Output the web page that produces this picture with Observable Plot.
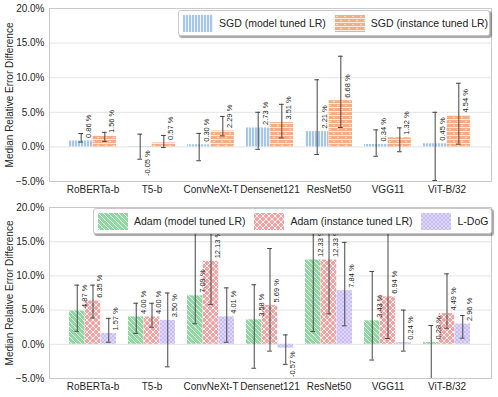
<!DOCTYPE html>
<html><head><meta charset="utf-8">
<script src="https://cdn.jsdelivr.net/npm/d3@7"></script>
<script src="https://cdn.jsdelivr.net/npm/@observablehq/plot@0.6"></script>
<style>
body{margin:0;background:#fff;font-family:"Liberation Sans",Arial,sans-serif}
#root{position:relative;width:498px;height:397px;overflow:hidden}
#root svg{display:block}
.legend{position:absolute;box-sizing:border-box;background:#fff;border:1px solid #c8c8c8;border-radius:3px;box-shadow:1.5px 1.5px 1px rgba(0,0,0,0.35);display:flex;align-items:center;font-size:10.5px;color:#222;padding:0 4px;white-space:nowrap}
.item{display:flex;align-items:center;margin-right:9px}
.item:last-child{margin-right:0}
.sw{width:30px;height:17px;margin-right:6px}
</style></head><body>
<svg width="0" height="0" style="position:absolute"><defs>
<pattern id="pBlue" width="3" height="3" patternUnits="userSpaceOnUse"><rect width="3" height="3" fill="#a6c6ed"/><rect x="2" width="1" height="3" fill="#fff" fill-opacity="0.8"/></pattern>
<pattern id="pOrange" width="8" height="8" patternUnits="userSpaceOnUse"><rect width="8" height="8" fill="#f2ae86"/><rect y="3" width="8" height="1" fill="#fff" fill-opacity="0.75"/><rect y="7" width="8" height="1" fill="#fff" fill-opacity="0.75"/><circle cx="2" cy="1.5" r="0.7" fill="#fff"/><circle cx="6" cy="5.5" r="0.7" fill="#fff"/></pattern>
<pattern id="pGreen" width="5" height="5" patternUnits="userSpaceOnUse"><rect width="5" height="5" fill="#8fd8a1"/><path d="M0,0L5,5M-1,4L1,6M4,-1L6,1" stroke="#fff" stroke-width="1" stroke-opacity="0.85"/></pattern>
<pattern id="pRed" width="6" height="6" patternUnits="userSpaceOnUse"><rect width="6" height="6" fill="#f4a3a3"/><path d="M0,0L6,6M6,0L0,6" stroke="#fff" stroke-width="1" stroke-opacity="0.85"/></pattern>
<pattern id="pPurple" width="4" height="4" patternUnits="userSpaceOnUse"><rect width="4" height="4" fill="#c9bdf5"/><circle cx="1" cy="1" r="0.75" fill="#fff"/><circle cx="3" cy="3" r="0.75" fill="#fff"/></pattern>
</defs></svg>
<div id="root"></div>
<script>
const models = ["RoBERTa-b","T5-b","ConvNeXt-T","Densenet121","ResNet50","VGG11","ViT-B/32"];
const yTicks = [-5,0,5,10,15,20];
const yLabel = "Median Relative Error Difference";

// Top panel: SGD
const sgdNames = ["SGD (model tuned LR)","SGD (instance tuned LR)"];
const sgdModel   = [0.86,-0.05,0.30,2.73,2.21,0.34,0.45];
const sgdModelLo = [0.70,-1.78,-2.00,-0.35,-1.10,-1.35,-4.85];
const sgdModelHi = [1.94,1.84,1.95,5.00,9.70,2.45,5.00];
const sgdInst    = [1.56,0.57,2.29,3.51,6.68,1.32,4.54];
const sgdInstLo  = [0.80,-0.10,1.60,1.30,2.80,-0.70,0.40];
const sgdInstHi  = [2.10,1.65,4.40,6.15,13.10,2.75,9.20];

// Bottom panel: Adam and L-DoG
const adamNames = ["Adam (model tuned LR)","Adam (instance tuned LR)","L-DoG"];
const adamModel   = [4.87,4.00,7.09,3.58,12.33,3.43,0.28];
const adamModelLo = [1.90,1.60,3.00,-3.50,1.85,-2.30,-6.00];
const adamModelHi = [8.65,6.00,18.50,8.70,18.00,10.65,2.75];
const adamInst    = [6.35,4.00,12.13,5.69,12.33,6.94,4.49];
const adamInstLo  = [3.85,2.50,5.80,-1.00,4.45,0.85,2.35];
const adamInstHi  = [8.65,6.00,22.00,14.00,22.00,18.00,10.30];
const ldog    = [1.57,3.50,4.01,-0.57,7.84,0.24,2.96];
const ldogLo  = [0.30,-3.30,0.30,-2.93,2.70,-1.00,0.90];
const ldogHi  = [3.80,7.50,8.25,1.37,14.90,5.00,4.20];

const W = 498, ML = 49, MR = 7, PI = 0.2, PO = 0.34;
const step = (W - ML - MR) / (models.length - PI + 2 * PO);
const band = step * (1 - PI);
const fmtY = d => (d < 0 ? "\u2212" : "") + Math.abs(d).toFixed(1) + "%";

function panel({height, marginTop, marginBottom, series}) {
  const k = series.length, seg = band / k;
  const marks = [
    Plot.ruleY(yTicks, {stroke: "#e4e4e4", strokeWidth: 1})
  ];
  series.forEach((s, j) => {
    const rows = models.map((m, i) => ({model: m, value: s.v[i], lo: s.lo[i], hi: s.hi[i]}));
    marks.push(Plot.barY(rows, {x: "model", y1: 0, y2: "value", fill: s.fill,
      insetLeft: j * seg, insetRight: band - (j + 1) * seg}));
  });
  series.forEach((s, j) => {
    const rows = models.map((m, i) => ({model: m, value: s.v[i], lo: s.lo[i], hi: s.hi[i]}));
    const c = (j + 0.5) * seg;
    marks.push(
      Plot.ruleX(rows, {x: "model", y1: "lo", y2: "hi", dx: c - band / 2, stroke: "#454545", strokeWidth: 1, clip: true}),
      Plot.tickY(rows, {x: "model", y: "lo", insetLeft: c - 2.5, insetRight: band - c - 2.5, stroke: "#454545", strokeWidth: 1, clip: true}),
      Plot.tickY(rows, {x: "model", y: "hi", insetLeft: c - 2.5, insetRight: band - c - 2.5, stroke: "#454545", strokeWidth: 1, clip: true}),
      Plot.text(rows.filter(d => d.value >= 0), {x: "model", y: "value", text: d => d.value.toFixed(2) + " %",
        rotate: -90, textAnchor: "start", lineAnchor: "middle", dx: c - band / 2 + 7, dy: -3, fontSize: 7.5, fill: "#262626"}),
      Plot.text(rows.filter(d => d.value < 0), {x: "model", y: "value", text: d => d.value.toFixed(2) + " %",
        rotate: -90, textAnchor: "end", lineAnchor: "middle", dx: c - band / 2 + 7, dy: 3, fontSize: 7.5, fill: "#262626"})
    );
  });
  marks.push(
    Plot.frame({stroke: "#c9c9c9"}),
    Plot.axisY(yTicks, {tickSize: 0, tickPadding: 5, tickFormat: fmtY, label: null, fontSize: 10}),
    Plot.axisX({tickSize: 0, tickPadding: 4, label: null, fontSize: 10}),
    Plot.text([yLabel], {frameAnchor: "left", textAnchor: "middle", lineAnchor: "middle", dx: -39.5, rotate: -90, fontSize: 10, fill: "#262626"})
  );
  return Plot.plot({
    width: W, height, marginLeft: ML, marginRight: MR, marginTop, marginBottom,
    x: {domain: models, paddingInner: PI, paddingOuter: PO},
    y: {domain: [-5, 20]},
    style: {fontFamily: "Liberation Sans, Arial, sans-serif", fontSize: "10px", color: "#262626", background: "white", overflow: "visible"},
    marks
  });
}

function legend(names, fills, pos) {
  const div = document.createElement("div");
  div.className = "legend";
  Object.assign(div.style, pos);
  names.forEach((n, i) => {
    const it = document.createElement("div");
    it.className = "item";
    it.innerHTML = `<svg class="sw" width="30" height="17"><rect width="30" height="17" fill="${fills[i]}"/></svg><span>${n}</span>`;
    div.appendChild(it);
  });
  return div;
}

const root = document.getElementById("root");
const topFills = ["url(#pBlue)","url(#pOrange)"];
const botFills = ["url(#pGreen)","url(#pRed)","url(#pPurple)"];
root.appendChild(panel({height: 197, marginTop: 8, marginBottom: 16, series: [
  {v: sgdModel, lo: sgdModelLo, hi: sgdModelHi, fill: topFills[0]},
  {v: sgdInst, lo: sgdInstLo, hi: sgdInstHi, fill: topFills[1]}
]}));
root.appendChild(panel({height: 200, marginTop: 10, marginBottom: 19, series: [
  {v: adamModel, lo: adamModelLo, hi: adamModelHi, fill: botFills[0]},
  {v: adamInst, lo: adamInstLo, hi: adamInstHi, fill: botFills[1]},
  {v: ldog, lo: ldogLo, hi: ldogHi, fill: botFills[2]}
]}));
root.appendChild(legend(sgdNames, topFills, {left: "178px", top: "10px", width: "312px", height: "26px"}));
root.appendChild(legend(adamNames, botFills, {left: "93px", top: "208px", width: "399px", height: "26px"}));
</script>
</body></html>
